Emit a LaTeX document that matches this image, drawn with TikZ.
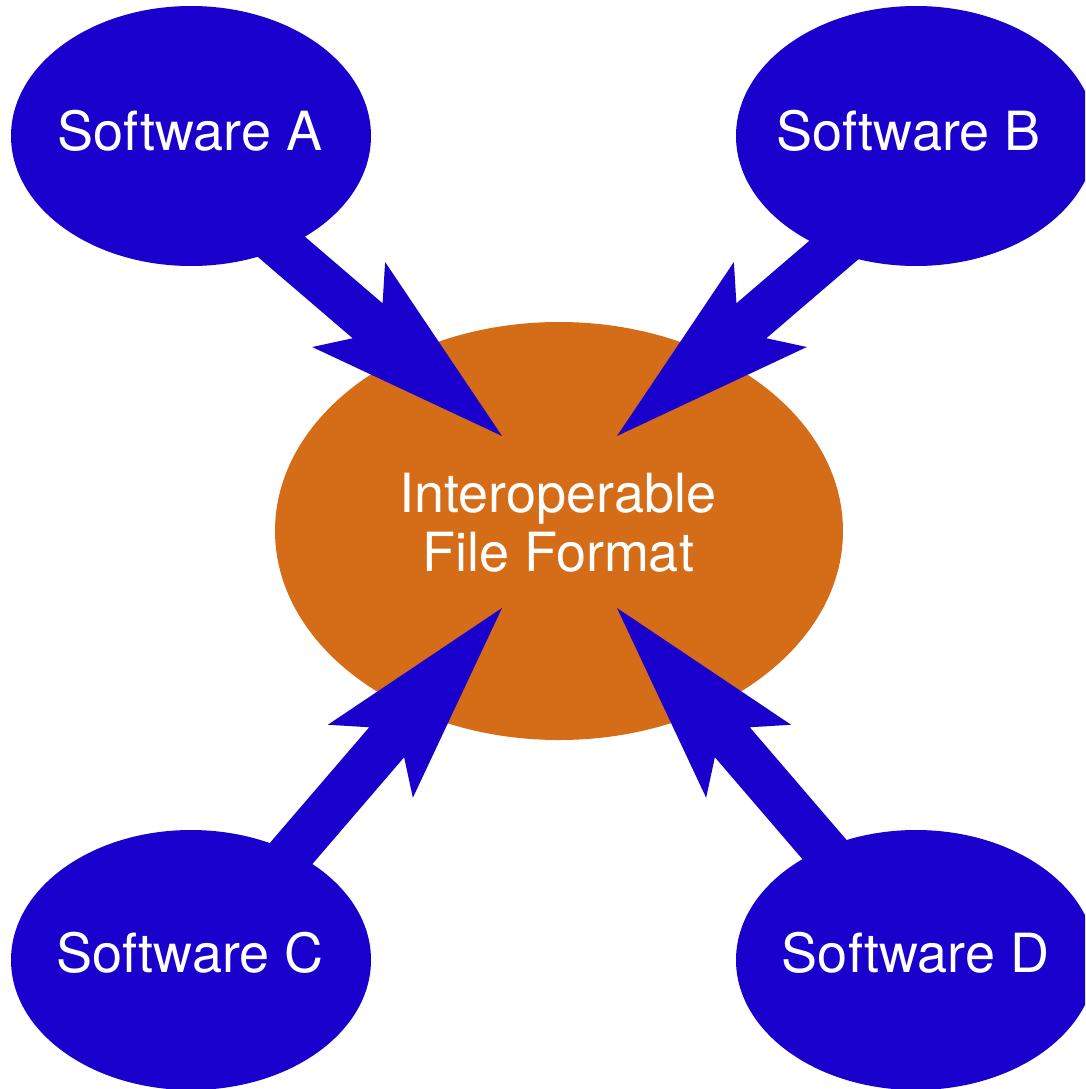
\documentclass[tikz,border=0pt]{standalone}
\usepackage{fontspec}
\setmainfont{TeX Gyre Heros}
\usetikzlibrary{shapes.geometric,calc}
\definecolor{swblue}{RGB}{26,0,204}
\definecolor{hubfill}{RGB}{213,108,24}
\tikzset{
  blob/.style={ellipse, fill=swblue, minimum width=360pt, minimum height=260pt, inner sep=0pt, outer sep=0pt},
  hubshape/.style={ellipse, fill=hubfill, minimum width=568pt, minimum height=418pt, inner sep=0pt, outer sep=0pt},
  lbl/.style={text=white, font=\fontsize{54}{59}\selectfont, inner sep=0pt, anchor=base},
}
% #1 name prefix, #2 start coordinate, #3 tip coordinate
\newcommand\fatarrow[3]{%
  \path ($(#3)!202pt!(#2)$) coordinate (#1b) ($(#3)!177pt!(#2)$) coordinate (#1n);
  \fill[swblue] ($(#2)!23pt!90:(#3)$) -- ($(#1n)!23pt!90:(#3)$) -- ($(#1b)!56pt!90:(#3)$)
    -- (#3) -- ($(#1b)!56pt!-90:(#3)$) -- ($(#1n)!23pt!-90:(#3)$) -- ($(#2)!23pt!-90:(#3)$) -- cycle;
}
\begin{document}
\begin{tikzpicture}[x=1pt,y=-1pt]
\useasboundingbox (0,0) rectangle (1085,1089);
\clip (0,0) rectangle (1085,1089);
\fill[white] (0,0) rectangle (1085,1089);
% hub
\node[hubshape] (hub) at (559,531) {};
% arrow endpoints
\coordinate (sA) at (205.9,182.1);
\coordinate (tA) at (502,436);
\coordinate (sB) at (913.1,182.1);
\coordinate (tB) at (617,436);
\coordinate (sC) at (226.6,928.6);
\coordinate (tC) at (502,608);
\coordinate (sD) at (892.4,928.6);
\coordinate (tD) at (617,608);
\fatarrow{aA}{sA}{tA}
\fatarrow{aB}{sB}{tB}
\fatarrow{aC}{sC}{tC}
\fatarrow{aD}{sD}{tD}
% software ellipses
\node[blob] (A) at (191,136) {};
\node[blob] (B) at (916,136) {};
\node[blob] (C) at (191,960) {};
\node[blob] (D) at (916,960) {};
% labels
\node[lbl] (Alabel) at (190,150) {Software A};
\node[lbl] (Blabel) at (908.5,150) {Software B};
\node[lbl] (Clabel) at (190,972) {Software C};
\node[lbl] (Dlabel) at (915.5,972) {Software D};
\node[lbl] (hublabel1) at (558,512) {Interoperable};
\node[lbl] (hublabel2) at (558,571) {File Format};
\end{tikzpicture}
\end{document}
